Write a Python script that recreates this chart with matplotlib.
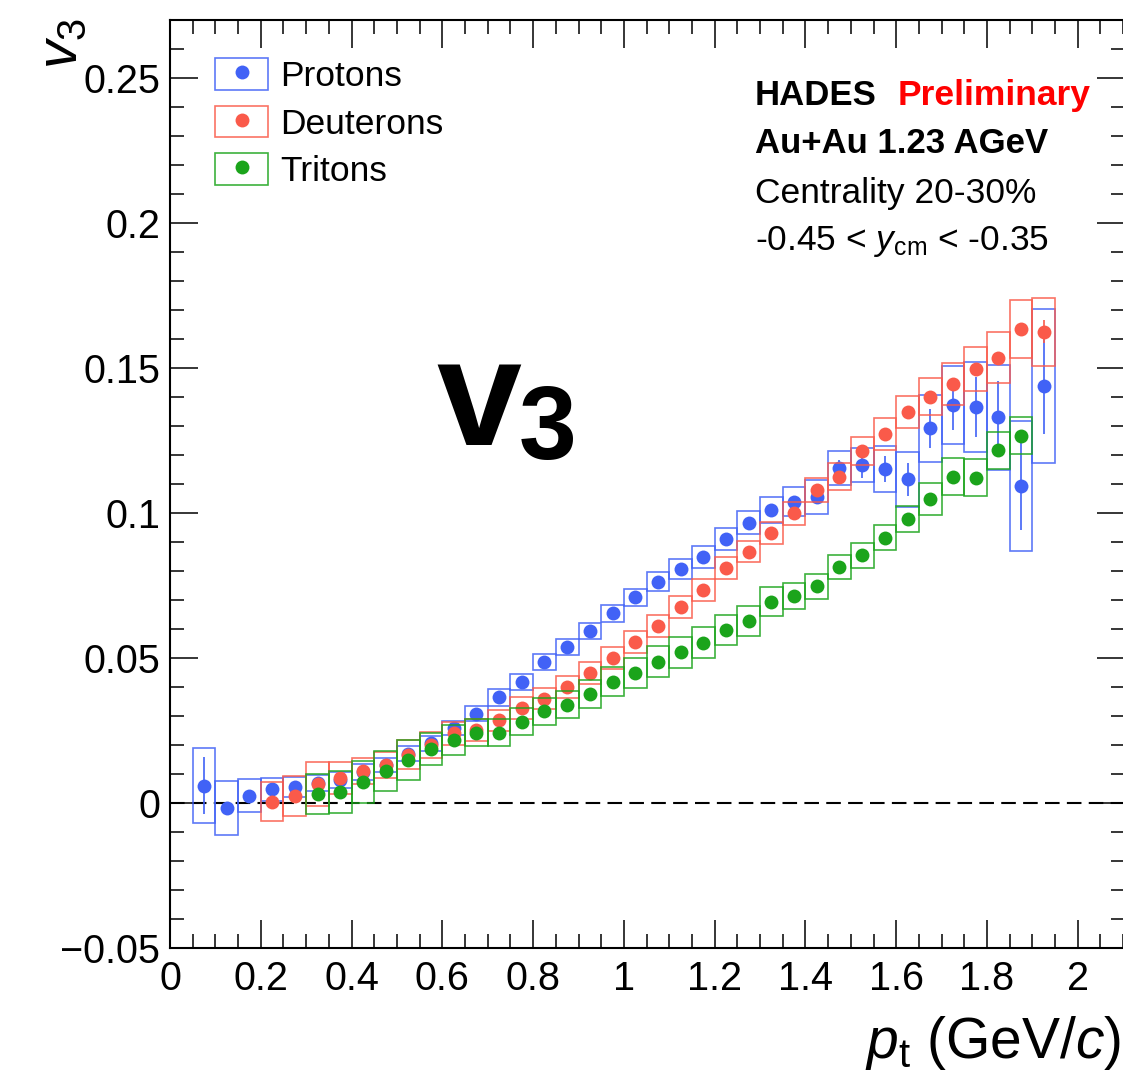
import numpy as np
import matplotlib
matplotlib.use("Agg")
import matplotlib.pyplot as plt
from matplotlib.patches import Rectangle
from matplotlib.lines import Line2D
from matplotlib.legend_handler import HandlerTuple
from matplotlib.ticker import MultipleLocator, FuncFormatter

plt.rcParams['font.family'] = ['Liberation Sans', 'DejaVu Sans']
plt.rcParams['mathtext.fontset'] = 'custom'
plt.rcParams['mathtext.rm'] = 'Liberation Sans'
plt.rcParams['mathtext.it'] = 'Liberation Sans:italic'
plt.rcParams['mathtext.bf'] = 'Liberation Sans:bold'

# ---------------- data ----------------
bin_width = 0.05

p_pt = [0.075, 0.125, 0.175, 0.225, 0.275, 0.325, 0.375, 0.425, 0.475, 0.525,
        0.575, 0.625, 0.675, 0.725, 0.775, 0.825, 0.875, 0.925, 0.975, 1.025,
        1.075, 1.125, 1.175, 1.225, 1.275, 1.325, 1.375, 1.425, 1.475, 1.525,
        1.575, 1.625, 1.675, 1.725, 1.775, 1.825, 1.875, 1.925]
p_v3 = [0.0060, -0.0017, 0.0025, 0.0047, 0.0056, 0.0068, 0.0080, 0.0108, 0.0131, 0.0170,
        0.0206, 0.0258, 0.0308, 0.0364, 0.0418, 0.0487, 0.0538, 0.0594, 0.0654, 0.0709,
        0.0763, 0.0806, 0.0849, 0.0910, 0.0967, 0.1010, 0.1039, 0.1056, 0.1154, 0.1166,
        0.1152, 0.1116, 0.1292, 0.1372, 0.1366, 0.1330, 0.1094, 0.1438]
p_stat = [0.0097, 0.0010, 0.0008, 0.0008, 0.0008, 0.0008, 0.0008, 0.0008, 0.0008, 0.0008,
          0.0008, 0.0008, 0.0008, 0.0008, 0.0008, 0.0008, 0.0008, 0.0008, 0.0008, 0.0008,
          0.0008, 0.0008, 0.0008, 0.0008, 0.0008, 0.0008, 0.0010, 0.0015, 0.0030, 0.0045,
          0.0046, 0.0056, 0.0068, 0.0086, 0.0103, 0.0124, 0.0152, 0.0167]
p_sys = [0.0130, 0.0093, 0.0057, 0.0040, 0.0035, 0.0028, 0.0028, 0.0028, 0.0025, 0.0025,
         0.0025, 0.0025, 0.0026, 0.0028, 0.0028, 0.0027, 0.0027, 0.0028, 0.0029, 0.0030,
         0.0032, 0.0034, 0.0037, 0.0038, 0.0040, 0.0045, 0.0050, 0.0058, 0.0059, 0.0059,
         0.0080, 0.0096, 0.0115, 0.0135, 0.0156, 0.0180, 0.0224, 0.0266]

d_pt = [0.225, 0.275, 0.325, 0.375, 0.425, 0.475, 0.525, 0.575, 0.625, 0.675,
        0.725, 0.775, 0.825, 0.875, 0.925, 0.975, 1.025, 1.075, 1.125, 1.175,
        1.225, 1.275, 1.325, 1.375, 1.425, 1.475, 1.525, 1.575, 1.625, 1.675,
        1.725, 1.775, 1.825, 1.875, 1.925]
d_v3 = [0.0005, 0.0024, 0.0065, 0.0085, 0.0110, 0.0131, 0.0166, 0.0200, 0.0240, 0.0253,
        0.0285, 0.0327, 0.0360, 0.0401, 0.0449, 0.0499, 0.0556, 0.0611, 0.0677, 0.0734,
        0.0809, 0.0867, 0.0930, 0.0999, 0.1079, 0.1125, 0.1214, 0.1272, 0.1347, 0.1401,
        0.1445, 0.1495, 0.1536, 0.1633, 0.1625]
d_stat = [0.0008, 0.0008, 0.0008, 0.0008, 0.0008, 0.0008, 0.0008, 0.0008, 0.0008, 0.0008,
          0.0008, 0.0008, 0.0008, 0.0008, 0.0008, 0.0008, 0.0008, 0.0008, 0.0008, 0.0008,
          0.0008, 0.0008, 0.0008, 0.0008, 0.0008, 0.0008, 0.0008, 0.0008, 0.0008, 0.0008,
          0.0008, 0.0010, 0.0015, 0.0020, 0.0040]
d_sys = [0.0066, 0.0069, 0.0075, 0.0055, 0.0046, 0.0046, 0.0050, 0.0045, 0.0040, 0.0038,
         0.0037, 0.0037, 0.0036, 0.0038, 0.0038, 0.0038, 0.0038, 0.0038, 0.0038, 0.0038,
         0.0038, 0.0036, 0.0038, 0.0040, 0.0042, 0.0047, 0.0048, 0.0054, 0.0055, 0.0063,
         0.0073, 0.0076, 0.0088, 0.0100, 0.0117]

t_pt = [0.325, 0.375, 0.425, 0.475, 0.525, 0.575, 0.625, 0.675, 0.725, 0.775,
        0.825, 0.875, 0.925, 0.975, 1.025, 1.075, 1.125, 1.175, 1.225, 1.275,
        1.325, 1.375, 1.425, 1.475, 1.525, 1.575, 1.625, 1.675, 1.725, 1.775,
        1.825, 1.875]
t_v3 = [0.0031, 0.0037, 0.0073, 0.0110, 0.0148, 0.0185, 0.0216, 0.0243, 0.0243, 0.0280,
        0.0316, 0.0339, 0.0375, 0.0418, 0.0449, 0.0487, 0.0520, 0.0553, 0.0597, 0.0628,
        0.0694, 0.0714, 0.0748, 0.0813, 0.0855, 0.0915, 0.0979, 0.1048, 0.1125, 0.1121,
        0.1216, 0.1267]
t_stat = [0.0006] * 30 + [0.0010, 0.0020]
t_sys = [0.0069, 0.0072, 0.0073, 0.0070, 0.0068, 0.0055, 0.0052, 0.0047, 0.0046, 0.0046,
         0.0046, 0.0046, 0.0048, 0.0050, 0.0052, 0.0053, 0.0053, 0.0053, 0.0053, 0.0053,
         0.0050, 0.0045, 0.0043, 0.0041, 0.0043, 0.0042, 0.0046, 0.0054, 0.0063, 0.0064,
         0.0065, 0.0063]

labels = ["Protons", "Deuterons", "Tritons"]
colors = ["#4162F6", "#FA5A4A", "#1BA41B"]

# ---------------- figure ----------------
W, H = 1123, 1077
fig = plt.figure(figsize=(W / 100, H / 100), dpi=100)
ax = fig.add_axes([170 / W, (H - 948) / H, 955 / W, 928 / H])
ax.set_xlim(0, 2.104)
ax.set_ylim(-0.05, 0.27)

ax.axhline(0, color='black', lw=1.5, dashes=[7, 3.5], zorder=1)

series = [(p_pt, p_v3, p_stat, p_sys), (d_pt, d_v3, d_stat, d_sys), (t_pt, t_v3, t_stat, t_sys)]
handles = []
for i, (pt, v, st, sy) in enumerate(series):
    pt = np.array(pt); v = np.array(v); st = np.array(st); sy = np.array(sy)
    c = colors[i]
    z = 2 + i * 2
    ax.bar(pt, 2 * sy, bottom=v - sy, width=bin_width, fill=False,
           edgecolor=c, linewidth=1.2, alpha=0.85, zorder=z)
    ax.errorbar(pt, v, yerr=st, fmt='o', color=c, markersize=10, elinewidth=1.2,
                capsize=2.5, capthick=1.2, markeredgewidth=0, zorder=z + 1)
    rect = Rectangle((0, 0), 1, 1, fill=False, edgecolor=c, linewidth=1.2, alpha=0.85)
    mk = Line2D([], [], marker='o', color=c, linestyle='none', markersize=10,
                markeredgewidth=0)
    handles.append((rect, mk))

ax.legend(handles, labels, handler_map={tuple: HandlerTuple(ndivide=1)},
          loc='upper left', bbox_to_anchor=((215 - 170) / 955, (948 - 58) / 928),
          fontsize=25.5, frameon=False, handlelength=1.5, handleheight=1.0,
          labelspacing=0.36, handletextpad=0.33, borderpad=0, borderaxespad=0)

# ticks
ax.xaxis.set_major_locator(MultipleLocator(0.2))
ax.xaxis.set_minor_locator(MultipleLocator(0.05))
ax.yaxis.set_major_locator(MultipleLocator(0.05))
ax.yaxis.set_minor_locator(MultipleLocator(0.01))
fmt = FuncFormatter(lambda v, p: ('%g' % round(v, 4)).replace('-', '\u2212'))
ax.xaxis.set_major_formatter(fmt)
ax.yaxis.set_major_formatter(fmt)
ax.tick_params(which='both', direction='in', top=True, right=True, width=1.1,
               labelsize=28.5)
ax.tick_params(which='major', length=20)
ax.tick_params(which='minor', length=10)
ax.tick_params(axis='x', pad=9)
ax.tick_params(axis='y', pad=7)
for s in ax.spines.values():
    s.set_linewidth(1.5)

def fx(px):
    return px / W

def fy(py):
    return 1 - py / H

# axis titles
fig.text(fx(1121), fy(1058), r'$p_{\mathrm{t}}$ (GeV/$c$)', ha='right', va='baseline',
         fontsize=41)
fig.text(fx(35), fy(18), r'$v_{3}$', rotation=90, ha='left', va='top', fontsize=41)

# annotations
fig.text(fx(755), fy(105), 'HADES', fontsize=25, fontweight='bold', va='baseline')
fig.text(fx(898), fy(105), 'Preliminary', fontsize=25.5, fontweight='bold', va='baseline',
         color='#FF0000')
fig.text(fx(755), fy(153), 'Au+Au 1.23 AGeV', fontsize=25, fontweight='bold', va='baseline')
fig.text(fx(755), fy(203), 'Centrality 20-30%', fontsize=25.5, va='baseline')
fig.text(fx(755), fy(250), r'-0.45 < $y_{\mathrm{cm}}$ < -0.35', fontsize=25.5, va='baseline')

# big label
fig.text(fx(436), fy(445), 'v', fontsize=110, fontweight='bold', va='baseline')
fig.text(fx(519), fy(459), '3', fontsize=75, fontweight='bold', va='baseline')

fig.savefig('out.png', dpi=100)
